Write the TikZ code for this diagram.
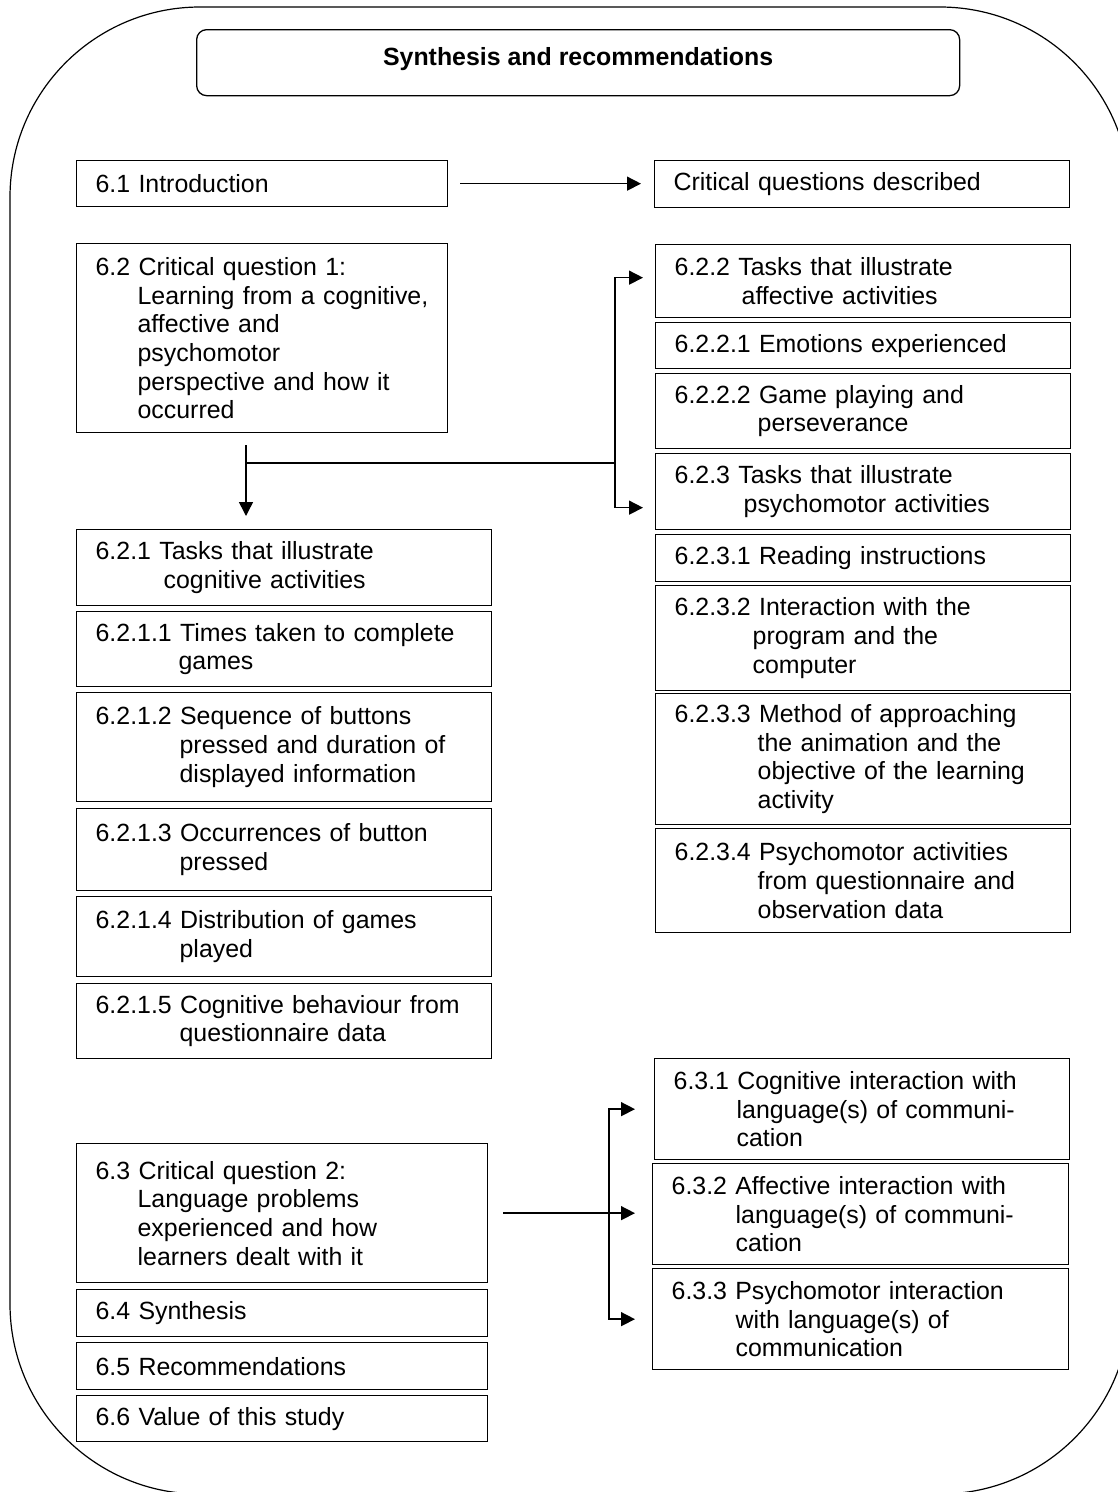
\documentclass[tikz,border=0pt]{standalone}
\usepackage{fontspec}
\setmainfont{Liberation Sans}
\usetikzlibrary{arrows.meta}
\newcommand{\nl}[1]{\\\hspace*{#1pt}}
\tikzset{
  entry/.style 2 args={draw, line width=1.3pt, anchor=north west,
    inner xsep=0pt, inner ysep=0pt, align=left,
    text width=#1pt, minimum height=#2pt,
    font={\fontsize{24.9pt}{28.7pt}\selectfont},
    execute at begin node={\hspace*{19pt}}},
  link/.style={line width=1.5pt, -{Triangle[length=14pt,width=14pt]}},
}
\begin{document}
\begin{tikzpicture}[x=1pt, y=-1pt]
  \useasboundingbox (0,0) rectangle (1118,1492);
  \clip (0,0) rectangle (1118,1492);
  % Outer frame
  \draw[line width=1.2pt, rounded corners=190pt] (10,7) rectangle (1130,1494);
  % Title
  \node[draw, line width=1.3pt, rounded corners=10pt, anchor=north west,
    minimum width=763pt, minimum height=66pt, inner sep=0pt,
    text height=18pt, text depth=12pt,
    font={\fontsize{24.9pt}{28.7pt}\selectfont\bfseries}] (title) at (196,29)
    {Synthesis and recommendations};
  % Left column
  \node[entry={371}{46}] (intro) at (76,160) {6.1 Introduction};
  \node[entry={371}{189}] (cq1) at (76,243) {6.2 Critical question 1:\nl{61}Learning from a cognitive,\nl{61}affective and\nl{61}psychomotor\nl{61}perspective and how it\nl{61}occurred};
  \node[entry={415}{76}] (t621) at (76,529) {6.2.1 Tasks that illustrate\nl{87}cognitive activities};
  \node[entry={415}{75}] (t6211) at (76,611) {6.2.1.1 Times taken to complete\nl{102}games};
  \node[entry={415}{109}] (t6212) at (76,692) {6.2.1.2 Sequence of buttons\nl{103}pressed and duration of\nl{103}displayed information};
  \node[entry={415}{82}] (t6213) at (76,808) {6.2.1.3 Occurrences of button\nl{103}pressed};
  \node[entry={415}{80}] (t6214) at (76,896) {6.2.1.4 Distribution of games\nl{103}played};
  \node[entry={415}{75}] (t6215) at (76,983) {6.2.1.5 Cognitive behaviour from\nl{103}questionnaire data};
  \node[entry={411}{139}] (cq2) at (76,1143) {6.3 Critical question 2:\nl{61}Language problems\nl{61}experienced and how\nl{61}learners dealt with it};
  \node[entry={411}{47}] (syn) at (76,1289) {6.4 Synthesis};
  \node[entry={411}{47}] (rec) at (76,1342) {6.5 Recommendations};
  \node[entry={411}{46}] (val) at (76,1395) {6.6 Value of this study};
  % Right column
  \node[entry={415}{47}] (cqd) at (654,160) {Critical questions described};
  \node[entry={415}{73}] (t622) at (655,244) {6.2.2 Tasks that illustrate\nl{86}affective activities};
  \node[entry={415}{46}] (t6221) at (655,322) {6.2.2.1 Emotions experienced};
  \node[entry={415}{75}] (t6222) at (655,373) {6.2.2.2 Game playing and\nl{102}perseverance};
  \node[entry={415}{76}] (t623) at (655,453) {6.2.3 Tasks that illustrate\nl{88}psychomotor activities};
  \node[entry={415}{47}] (t6231) at (655,534) {6.2.3.1 Reading instructions};
  \node[entry={415}{105}] (t6232) at (655,585) {6.2.3.2 Interaction with the\nl{97}program and the\nl{97}computer};
  \node[entry={415}{131}] (t6233) at (655,693) {6.2.3.3 Method of approaching\nl{102}the animation and the\nl{102}objective of the learning\nl{102}activity};
  \node[entry={415}{104}] (t6234) at (655,828) {6.2.3.4 Psychomotor activities\nl{102}from questionnaire and\nl{102}observation data};
  \node[entry={415}{101}] (t631) at (654,1058) {6.3.1 Cognitive interaction with\nl{82}language(s) of communi-\nl{82}cation};
  \node[entry={416}{101}] (t632) at (652,1163) {6.3.2 Affective interaction with\nl{83}language(s) of communi-\nl{83}cation};
  \node[entry={416}{101}] (t633) at (652,1268) {6.3.3 Psychomotor interaction\nl{83}with language(s) of\nl{83}communication};
  % Introduction arrow
  \draw[link, shorten <=12pt, shorten >=13pt] (intro.east) -- (intro.east -| cqd.west);
  % Critical question 1 fork
  \coordinate (fork) at (246,463);
  \coordinate (bus) at (615,463);
  \draw[link, shorten <=12pt, shorten >=13pt] (fork |- cq1.south) -- (fork |- t621.north);
  \draw[line width=1.5pt] (fork) -- (bus);
  \draw[link, shorten >=12pt] (bus) |- ([yshift=3.5pt]t622.west);
  \draw[link, shorten >=12pt] (bus) |- ([yshift=-16pt]t623.west);
  % Critical question 2 fork
  \coordinate (bus2) at (609,1214);
  \draw[link, shorten <=15pt, shorten >=17pt] (cq2.east) -- (cq2.east -| t632.west);
  \draw[link, shorten >=19pt] (bus2) |- (t631.west);
  \draw[link, shorten >=17pt] (bus2) |- (t633.west);
\end{tikzpicture}
\end{document}
